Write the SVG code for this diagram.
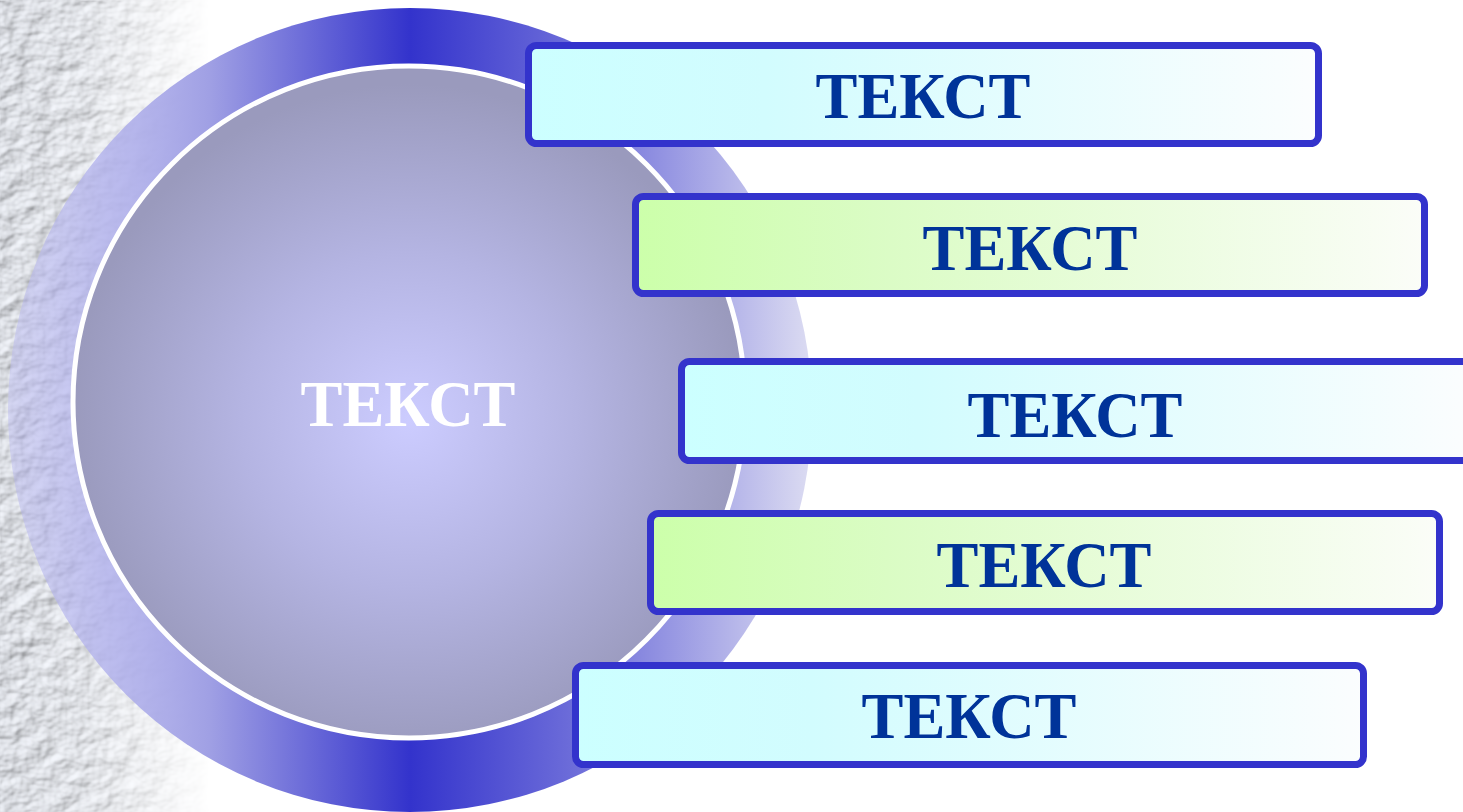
<svg xmlns="http://www.w3.org/2000/svg" width="1463" height="812" viewBox="0 0 1463 812">
  <defs>
    <filter id="marble" x="0" y="0" width="100%" height="100%">
      <feTurbulence type="fractalNoise" baseFrequency="0.045 0.06" numOctaves="3" seed="7" result="n"/>
      <feDiffuseLighting in="n" surfaceScale="3.5" diffuseConstant="1.05" lighting-color="#eef1f7" result="l">
        <feDistantLight azimuth="225" elevation="50"/>
      </feDiffuseLighting>
    </filter>
    <linearGradient id="fadeG" x1="0" y1="0" x2="1" y2="0">
      <stop offset="0" stop-color="#fff" stop-opacity="1"/>
      <stop offset="0.4" stop-color="#fff" stop-opacity="0.8"/>
      <stop offset="1" stop-color="#fff" stop-opacity="0"/>
    </linearGradient>
    <mask id="fadeM">
      <rect x="0" y="0" width="210" height="812" fill="url(#fadeG)"/>
    </mask>
    <linearGradient id="ringG" gradientUnits="userSpaceOnUse" x1="8" y1="0" x2="812" y2="0">
      <stop offset="0" stop-color="#b8b8f0" stop-opacity="0.45"/>
      <stop offset="0.12" stop-color="#b0b0ec" stop-opacity="0.8"/>
      <stop offset="0.25" stop-color="#a0a0e4"/>
      <stop offset="0.5" stop-color="#3333cc"/>
      <stop offset="0.75" stop-color="#7a7adc"/>
      <stop offset="1" stop-color="#dcdcf2"/>
    </linearGradient>
    <radialGradient id="innerG" gradientUnits="userSpaceOnUse" cx="409" cy="420" r="336">
      <stop offset="0" stop-color="#ccccff"/>
      <stop offset="0.5" stop-color="#b4b4e2"/>
      <stop offset="1" stop-color="#9a9abd"/>
    </radialGradient>
    <linearGradient id="cyanG" x1="0" y1="0" x2="1" y2="0">
      <stop offset="0" stop-color="#ccffff"/>
      <stop offset="0.3" stop-color="#d2fcfe"/>
      <stop offset="1" stop-color="#fbfdfe"/>
    </linearGradient>
    <linearGradient id="greenG" x1="0" y1="0" x2="1" y2="0">
      <stop offset="0" stop-color="#ccffaa"/>
      <stop offset="0.3" stop-color="#dafcc4"/>
      <stop offset="1" stop-color="#fbfdf8"/>
    </linearGradient>
    <style>
      .box { stroke: #3333cc; stroke-width: 7; }
      .lbl { font-family: "Liberation Serif", "Times New Roman", serif; font-weight: bold; font-size: 65px; fill: #003399; text-anchor: middle; }
      .ctr { font-family: "Liberation Serif", "Times New Roman", serif; font-weight: bold; font-size: 65px; fill: #ffffff; text-anchor: middle; }
    </style>
  </defs>
  <rect x="0" y="0" width="1463" height="812" fill="#ffffff"/>
  <g mask="url(#fadeM)">
    <rect x="0" y="0" width="210" height="812" filter="url(#marble)"/>
  </g>
  <g id="circle">
    <circle cx="410" cy="410" r="402" fill="url(#ringG)"/>
    <circle cx="409" cy="402" r="336" fill="url(#innerG)" stroke="#ffffff" stroke-width="5"/>
    <text class="ctr" x="408" y="426" textLength="215" lengthAdjust="spacingAndGlyphs">ТЕКСТ</text>
  </g>
  <g id="connectors"></g>
  <g id="box1">
    <rect class="box" x="528.5" y="45.5" width="790" height="98" rx="8" fill="url(#cyanG)"/>
    <text class="lbl" x="923" y="118" textLength="215" lengthAdjust="spacingAndGlyphs">ТЕКСТ</text>
  </g>
  <g id="box2">
    <rect class="box" x="635.5" y="196.5" width="789" height="97" rx="8" fill="url(#greenG)"/>
    <text class="lbl" x="1030" y="270" textLength="215" lengthAdjust="spacingAndGlyphs">ТЕКСТ</text>
  </g>
  <g id="box3">
    <rect class="box" x="681.5" y="361.5" width="790" height="99" rx="8" fill="url(#cyanG)"/>
    <text class="lbl" x="1075" y="437" textLength="215" lengthAdjust="spacingAndGlyphs">ТЕКСТ</text>
  </g>
  <g id="box4">
    <rect class="box" x="650.5" y="513.5" width="789" height="98" rx="8" fill="url(#greenG)"/>
    <text class="lbl" x="1044" y="587" textLength="215" lengthAdjust="spacingAndGlyphs">ТЕКСТ</text>
  </g>
  <g id="box5">
    <rect class="box" x="575.5" y="665.5" width="788" height="99" rx="8" fill="url(#cyanG)"/>
    <text class="lbl" x="969" y="738" textLength="215" lengthAdjust="spacingAndGlyphs">ТЕКСТ</text>
  </g>
</svg>
